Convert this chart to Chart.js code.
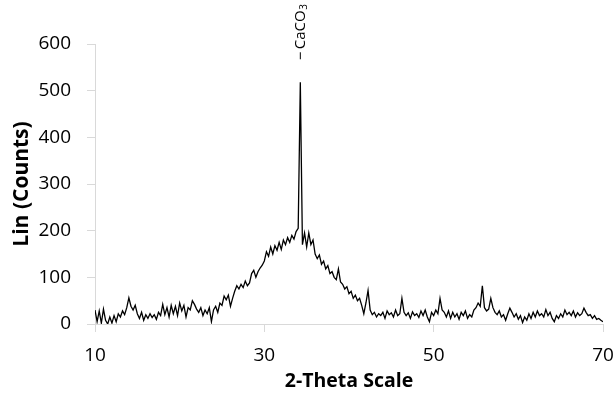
<!DOCTYPE html>
<html lang="en">
<head>
    <meta charset="UTF-8">
    <title>XRD pattern</title>
    <script src="https://cdn.jsdelivr.net/npm/chart.js@4.4.0/dist/chart.umd.min.js"></script>
    <style>
        html, body { margin: 0; padding: 0; background: #fff; }
        #wrap { width: 614px; height: 394px; }
    </style>
</head>
<body>
    <div id="wrap"><canvas id="xrd" width="614" height="394"></canvas></div>
    <script>
        // 2-theta grid: one reading every 0.25 deg, from 10 to 70
        const thetaStart = 10;
        const thetaStep = 0.25;

        // counts, 4 readings per degree
        const counts = [
            30, 5, 28, 2,        // 10
            32, 8, 0, 15,        // 11
            2, 18, 5, 22,        // 12
            15, 28, 20, 35,      // 13
            56, 38, 30, 40,      // 14
            22, 12, 25, 8,       // 15
            20, 12, 22, 14,      // 16
            20, 10, 25, 18,      // 17
            42, 20, 35, 15,      // 18
            40, 22, 38, 18,      // 19
            45, 28, 40, 15,      // 20
            35, 30, 50, 42,      // 21
            32, 25, 35, 18,      // 22
            30, 22, 35, 5,       // 23
            30, 38, 25, 45,      // 24
            40, 60, 52, 62,      // 25
            38, 55, 70, 82,      // 26
            75, 85, 78, 92,      // 27
            82, 88, 108, 115,    // 28
            100, 112, 120, 126,  // 29
            135, 155, 145, 165,  // 30
            150, 168, 158, 175,  // 31
            160, 180, 170, 185,  // 32
            175, 190, 182, 198,  // 33
            205, 518, 170, 195,  // 34
            165, 195, 170, 180,  // 35
            150, 140, 148, 128,  // 36
            135, 118, 125, 108,  // 37
            112, 100, 95, 118,   // 38
            90, 85, 75, 80,      // 39
            65, 70, 55, 62,      // 40
            50, 55, 40, 22,      // 41
            45, 72, 30, 20,      // 42
            25, 15, 22, 18,      // 43
            25, 12, 28, 20,      // 44
            24, 15, 30, 18,      // 45
            22, 55, 25, 18,      // 46
            24, 12, 26, 18,      // 47
            22, 14, 28, 18,      // 48
            30, 15, 5, 25,       // 49
            18, 30, 22, 55,      // 50
            30, 25, 15, 28,      // 51
            12, 25, 15, 22,      // 52
            10, 25, 18, 28,      // 53
            12, 20, 15, 30,      // 54
            35, 45, 38, 82,      // 55
            35, 28, 32, 55,      // 56
            35, 25, 20, 28,      // 57
            15, 20, 8, 22,       // 58
            34, 25, 15, 22,      // 59
            10, 18, 3, 15,       // 60
            8, 22, 12, 25,       // 61
            15, 28, 18, 22,      // 62
            15, 31, 18, 25,      // 63
            12, 5, 18, 12,       // 64
            22, 15, 30, 20,      // 65
            25, 18, 28, 15,      // 66
            24, 18, 22, 34,      // 67
            25, 18, 20, 12,      // 68
            18, 10, 12, 8,       // 69
            5                    // 70
        ];

        const xTicks = [10, 30, 50, 70];
        const yMin = 0, yMax = 600, yStep = 100;
        const peakName = 'CaCO';
        const peakSub = '3';

        const points = counts.map((c, i) => ({ x: thetaStart + i * thetaStep, y: c }));
        const peak = points.reduce((a, b) => (b.y > a.y ? b : a));

        const font = '"Open Sans", sans-serif';
        const axisGrey = '#d9d9d9';

        // vertical label over the main peak
        const peakLabelPlugin = {
            id: 'peakLabel',
            afterDatasetsDraw(chart) {
                const ctx = chart.ctx;
                const px = chart.scales.x.getPixelForValue(peak.x);
                const py = chart.scales.y.getPixelForValue(peak.y);
                ctx.save();
                ctx.strokeStyle = '#000';
                ctx.lineWidth = 1;
                ctx.beginPath();
                ctx.moveTo(px, py - 23);
                ctx.lineTo(px, py - 30);
                ctx.stroke();
                ctx.translate(px, py - 33);
                ctx.rotate(-Math.PI / 2);
                ctx.fillStyle = '#000';
                ctx.textBaseline = 'middle';
                ctx.textAlign = 'left';
                ctx.font = '15px ' + font;
                ctx.fillText(peakName, 0, 0);
                const w = ctx.measureText(peakName).width;
                ctx.font = '10px ' + font;
                ctx.fillText(peakSub, w + 0.5, 4);
                ctx.restore();
            }
        };

        new Chart(document.getElementById('xrd').getContext('2d'), {
            type: 'line',
            data: {
                datasets: [{
                    data: points,
                    borderColor: '#000',
                    borderWidth: 1.3,
                    pointRadius: 0,
                    tension: 0,
                    fill: false
                }]
            },
            options: {
                responsive: false,
                animation: false,
                devicePixelRatio: 1,
                layout: { padding: { top: 44, right: 11, bottom: 0, left: 0 } },
                plugins: {
                    legend: { display: false },
                    tooltip: { enabled: false }
                },
                scales: {
                    x: {
                        type: 'linear',
                        min: 10,
                        max: 70,
                        afterBuildTicks: s => { s.ticks = xTicks.map(v => ({ value: v })); },
                        afterFit: s => { s.height = 70; s.paddingLeft = 0; s.paddingRight = 0; },
                        border: { color: axisGrey, width: 1 },
                        grid: { drawOnChartArea: false, drawTicks: true, tickLength: 8, color: axisGrey },
                        ticks: { color: '#000', font: { family: font, size: 19 }, padding: 12, maxRotation: 0 },
                        title: {
                            display: true,
                            text: '2-Theta Scale',
                            color: '#000',
                            font: { family: font, size: 19.5, weight: 'bold' },
                            padding: { top: 0, bottom: 1 }
                        }
                    },
                    y: {
                        min: yMin,
                        max: yMax,
                        afterFit: s => { s.width = 95; s.paddingTop = 0; s.paddingBottom = 0; },
                        border: { color: axisGrey, width: 1 },
                        grid: { drawOnChartArea: false, drawTicks: true, tickLength: 8, color: axisGrey },
                        ticks: { stepSize: yStep, color: '#000', font: { family: font, size: 19 }, padding: 16 },
                        title: {
                            display: true,
                            text: 'Lin (Counts)',
                            color: '#000',
                            font: { family: font, size: 21, weight: 'bold' },
                            padding: { top: 9, bottom: 0 }
                        }
                    }
                }
            },
            plugins: [peakLabelPlugin]
        });
    </script>
</body>
</html>
